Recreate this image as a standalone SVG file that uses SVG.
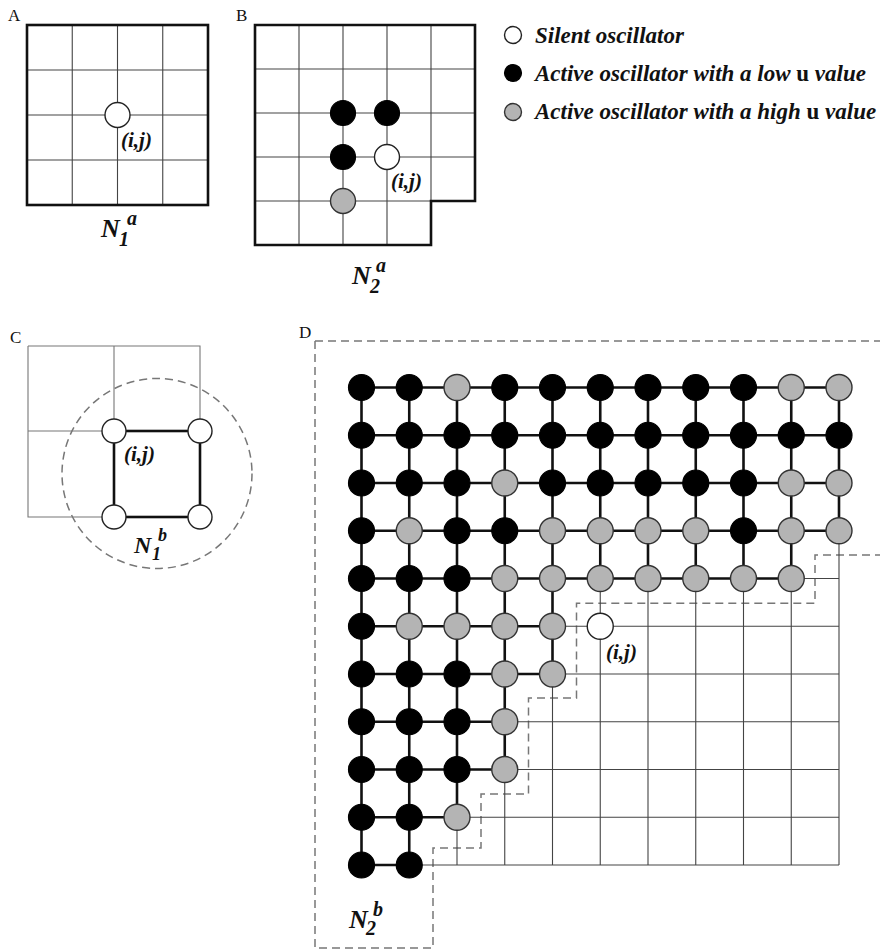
<svg xmlns="http://www.w3.org/2000/svg" width="880" height="950" viewBox="0 0 880 950">
  <style>
    .bg { fill: #ffffff; }
    .frame { fill: none; stroke: #111; stroke-width: 2.6; }
    .grid { fill: none; stroke: #444; stroke-width: 1.1; }
    .grid-lt { fill: none; stroke: #777; stroke-width: 1.1; }
    .thick { fill: none; stroke: #111; stroke-width: 2.6; }
    .dash { fill: none; stroke: #777; stroke-width: 1.5; stroke-dasharray: 8 5; }
    .silent { fill: #ffffff; stroke: #222; stroke-width: 1.4; }
    .low { fill: #000000; stroke: #000; stroke-width: 1.2; }
    .high { fill: #b4b4b4; stroke: #333; stroke-width: 1.4; }
    .panel { font-family: "Liberation Serif", "Times New Roman", serif; font-size: 17px; fill: #111; }
    .lbl { font-family: "Liberation Serif", "Times New Roman", serif; font-style: italic; font-weight: bold; fill: #111; }
    .ij { font-size: 21px; }
    .leg { font-size: 23px; }
    .u { font-style: normal; }
  </style>
  <rect class="bg" x="0" y="0" width="880" height="950"/>

  <!-- Panel letters -->
  <text class="panel" x="8" y="21">A</text>
  <text class="panel" x="236" y="21">B</text>
  <text class="panel" x="10" y="343">C</text>
  <text class="panel" x="299" y="338">D</text>

  <!-- Legend -->
  <g id="legend">
    <g id="legend-silent">
      <circle class="silent" cx="513" cy="35" r="8.5"/>
      <text class="lbl leg" x="535" y="43">Silent oscillator</text>
    </g>
    <g id="legend-low">
      <circle class="low" cx="513" cy="73" r="8.5"/>
      <text class="lbl leg" x="535" y="81">Active oscillator with a low <tspan class="u">u</tspan> value</text>
    </g>
    <g id="legend-high">
      <circle class="high" cx="513" cy="112" r="8.5"/>
      <text class="lbl leg" x="535" y="119">Active oscillator with a high <tspan class="u">u</tspan> value</text>
    </g>
  </g>

  <!-- Panel A: 4x4 neighbourhood -->
  <g id="panel-a">
    <g id="a-connectors">
      <path class="grid" d="M72.25,25V205 M117.5,25V205 M162.75,25V205 M27,70H208 M27,115H208 M27,160H208"/>
      <rect class="frame" x="27" y="25" width="181" height="180"/>
    </g>
    <g id="a-node-ij">
      <circle class="silent" cx="117.5" cy="115" r="12.5"/>
      <text class="lbl ij" x="121" y="147">(i,j)</text>
    </g>
    <text class="lbl" x="101" y="237" font-size="26">N<tspan x="127" y="225" font-size="20">a</tspan><tspan x="119" y="246" font-size="20">1</tspan></text>
  </g>

  <!-- Panel B: 5x5 neighbourhood minus one corner -->
  <g id="panel-b">
    <g id="b-connectors">
      <path class="grid" d="M299,25V245 M343,25V245 M387,25V245 M431,25V201 M255,69H475 M255,113H475 M255,157H475 M255,201H431"/>
      <path class="frame" d="M255,25H475V201H431V245H255Z"/>
    </g>
    <g id="b-node-1"><circle class="low" cx="343" cy="113" r="12.5"/></g>
    <g id="b-node-2"><circle class="low" cx="387" cy="113" r="12.5"/></g>
    <g id="b-node-3"><circle class="low" cx="343" cy="157" r="12.5"/></g>
    <g id="b-node-ij">
      <circle class="silent" cx="387" cy="157" r="12.5"/>
      <text class="lbl ij" x="391" y="188">(i,j)</text>
    </g>
    <g id="b-node-4"><circle class="high" cx="343" cy="201" r="12.5"/></g>
    <text class="lbl" x="352" y="284" font-size="26">N<tspan x="376" y="272" font-size="20">a</tspan><tspan x="370" y="293" font-size="20">2</tspan></text>
  </g>

  <!-- Panel C: corner neighbourhood -->
  <g id="panel-c">
    <g id="c-connectors">
      <path class="grid-lt" d="M28,346H200V431 M28,346V517H114 M114,346V431 M28,431H114"/>
      <rect class="thick" x="114" y="431" width="86" height="86"/>
      <circle class="dash" cx="157" cy="473.5" r="95"/>
    </g>
    <g id="c-node-ij">
      <circle class="silent" cx="114" cy="431" r="12"/>
      <text class="lbl ij" x="124" y="461">(i,j)</text>
    </g>
    <g id="c-node-2"><circle class="silent" cx="200" cy="431" r="12"/></g>
    <g id="c-node-3"><circle class="silent" cx="114" cy="517" r="12"/></g>
    <g id="c-node-4"><circle class="silent" cx="200" cy="517" r="12"/></g>
    <text class="lbl" x="134" y="553" font-size="24">N<tspan x="158" y="541" font-size="18">b</tspan><tspan x="152" y="560" font-size="18">1</tspan></text>
  </g>

  <!-- Panel D: 11x11 lattice, columns x = 361.5 + 47.75*i, rows y = 387.5 + 47.75*j -->
  <g id="panel-d">
    <g id="d-connectors">
      <!-- boundary of the second neighbourhood -->
      <path class="dash" d="M315,341H880 M315,341V948H433V848H481V794H528.5V698H576.5V603.3H815V555H880"/>
      <!-- links touching the silent region -->
      <path class="grid" d="M791.25,578.5H839 M552.5,626.25H839 M552.5,674H839 M504.75,721.75H839 M504.75,769.5H839 M457,817.25H839 M409.25,865H839
        M457,817.25V865 M504.75,769.5V865 M552.5,674V865 M600.25,578.5V865 M648,578.5V865 M695.75,578.5V865 M743.5,578.5V865 M791.25,578.5V865 M839,530.75V865"/>
      <!-- links between active oscillators -->
      <path class="thick" d="M361.5,387.5H839 M361.5,435.25H839 M361.5,483H839 M361.5,530.75H839 M361.5,578.5H791.25 M361.5,626.25H552.5 M361.5,674H552.5 M361.5,721.75H504.75 M361.5,769.5H504.75 M361.5,817.25H457 M361.5,865H409.25
        M361.5,387.5V865 M409.25,387.5V865 M457,387.5V817.25 M504.75,387.5V769.5 M552.5,387.5V674 M600.25,387.5V578.5 M648,387.5V578.5 M695.75,387.5V578.5 M743.5,387.5V578.5 M791.25,387.5V578.5 M839,387.5V530.75"/>
    </g>
    <g id="d-nodes">
      <!-- row 0 -->
      <g id="d-r0c0"><circle class="low" cx="361.5" cy="387.5" r="13"/></g>
      <g id="d-r0c1"><circle class="low" cx="409.25" cy="387.5" r="13"/></g>
      <g id="d-r0c2"><circle class="high" cx="457" cy="387.5" r="13"/></g>
      <g id="d-r0c3"><circle class="low" cx="504.75" cy="387.5" r="13"/></g>
      <g id="d-r0c4"><circle class="low" cx="552.5" cy="387.5" r="13"/></g>
      <g id="d-r0c5"><circle class="low" cx="600.25" cy="387.5" r="13"/></g>
      <g id="d-r0c6"><circle class="low" cx="648" cy="387.5" r="13"/></g>
      <g id="d-r0c7"><circle class="low" cx="695.75" cy="387.5" r="13"/></g>
      <g id="d-r0c8"><circle class="low" cx="743.5" cy="387.5" r="13"/></g>
      <g id="d-r0c9"><circle class="high" cx="791.25" cy="387.5" r="13"/></g>
      <g id="d-r0c10"><circle class="high" cx="839" cy="387.5" r="13"/></g>
      <!-- row 1 -->
      <g id="d-r1c0"><circle class="low" cx="361.5" cy="435.25" r="13"/></g>
      <g id="d-r1c1"><circle class="low" cx="409.25" cy="435.25" r="13"/></g>
      <g id="d-r1c2"><circle class="low" cx="457" cy="435.25" r="13"/></g>
      <g id="d-r1c3"><circle class="low" cx="504.75" cy="435.25" r="13"/></g>
      <g id="d-r1c4"><circle class="low" cx="552.5" cy="435.25" r="13"/></g>
      <g id="d-r1c5"><circle class="low" cx="600.25" cy="435.25" r="13"/></g>
      <g id="d-r1c6"><circle class="low" cx="648" cy="435.25" r="13"/></g>
      <g id="d-r1c7"><circle class="low" cx="695.75" cy="435.25" r="13"/></g>
      <g id="d-r1c8"><circle class="low" cx="743.5" cy="435.25" r="13"/></g>
      <g id="d-r1c9"><circle class="low" cx="791.25" cy="435.25" r="13"/></g>
      <g id="d-r1c10"><circle class="low" cx="839" cy="435.25" r="13"/></g>
      <!-- row 2 -->
      <g id="d-r2c0"><circle class="low" cx="361.5" cy="483" r="13"/></g>
      <g id="d-r2c1"><circle class="low" cx="409.25" cy="483" r="13"/></g>
      <g id="d-r2c2"><circle class="low" cx="457" cy="483" r="13"/></g>
      <g id="d-r2c3"><circle class="high" cx="504.75" cy="483" r="13"/></g>
      <g id="d-r2c4"><circle class="low" cx="552.5" cy="483" r="13"/></g>
      <g id="d-r2c5"><circle class="low" cx="600.25" cy="483" r="13"/></g>
      <g id="d-r2c6"><circle class="low" cx="648" cy="483" r="13"/></g>
      <g id="d-r2c7"><circle class="low" cx="695.75" cy="483" r="13"/></g>
      <g id="d-r2c8"><circle class="low" cx="743.5" cy="483" r="13"/></g>
      <g id="d-r2c9"><circle class="high" cx="791.25" cy="483" r="13"/></g>
      <g id="d-r2c10"><circle class="high" cx="839" cy="483" r="13"/></g>
      <!-- row 3 -->
      <g id="d-r3c0"><circle class="low" cx="361.5" cy="530.75" r="13"/></g>
      <g id="d-r3c1"><circle class="high" cx="409.25" cy="530.75" r="13"/></g>
      <g id="d-r3c2"><circle class="low" cx="457" cy="530.75" r="13"/></g>
      <g id="d-r3c3"><circle class="low" cx="504.75" cy="530.75" r="13"/></g>
      <g id="d-r3c4"><circle class="high" cx="552.5" cy="530.75" r="13"/></g>
      <g id="d-r3c5"><circle class="high" cx="600.25" cy="530.75" r="13"/></g>
      <g id="d-r3c6"><circle class="high" cx="648" cy="530.75" r="13"/></g>
      <g id="d-r3c7"><circle class="high" cx="695.75" cy="530.75" r="13"/></g>
      <g id="d-r3c8"><circle class="low" cx="743.5" cy="530.75" r="13"/></g>
      <g id="d-r3c9"><circle class="high" cx="791.25" cy="530.75" r="13"/></g>
      <g id="d-r3c10"><circle class="high" cx="839" cy="530.75" r="13"/></g>
      <!-- row 4 -->
      <g id="d-r4c0"><circle class="low" cx="361.5" cy="578.5" r="13"/></g>
      <g id="d-r4c1"><circle class="low" cx="409.25" cy="578.5" r="13"/></g>
      <g id="d-r4c2"><circle class="low" cx="457" cy="578.5" r="13"/></g>
      <g id="d-r4c3"><circle class="high" cx="504.75" cy="578.5" r="13"/></g>
      <g id="d-r4c4"><circle class="high" cx="552.5" cy="578.5" r="13"/></g>
      <g id="d-r4c5"><circle class="high" cx="600.25" cy="578.5" r="13"/></g>
      <g id="d-r4c6"><circle class="high" cx="648" cy="578.5" r="13"/></g>
      <g id="d-r4c7"><circle class="high" cx="695.75" cy="578.5" r="13"/></g>
      <g id="d-r4c8"><circle class="high" cx="743.5" cy="578.5" r="13"/></g>
      <g id="d-r4c9"><circle class="high" cx="791.25" cy="578.5" r="13"/></g>
      <!-- row 5 -->
      <g id="d-r5c0"><circle class="low" cx="361.5" cy="626.25" r="13"/></g>
      <g id="d-r5c1"><circle class="high" cx="409.25" cy="626.25" r="13"/></g>
      <g id="d-r5c2"><circle class="high" cx="457" cy="626.25" r="13"/></g>
      <g id="d-r5c3"><circle class="high" cx="504.75" cy="626.25" r="13"/></g>
      <g id="d-r5c4"><circle class="high" cx="552.5" cy="626.25" r="13"/></g>
      <g id="d-node-ij">
        <circle class="silent" cx="600.25" cy="626.25" r="13"/>
        <text class="lbl ij" x="606" y="659">(i,j)</text>
      </g>
      <!-- row 6 -->
      <g id="d-r6c0"><circle class="low" cx="361.5" cy="674" r="13"/></g>
      <g id="d-r6c1"><circle class="low" cx="409.25" cy="674" r="13"/></g>
      <g id="d-r6c2"><circle class="low" cx="457" cy="674" r="13"/></g>
      <g id="d-r6c3"><circle class="high" cx="504.75" cy="674" r="13"/></g>
      <g id="d-r6c4"><circle class="high" cx="552.5" cy="674" r="13"/></g>
      <!-- row 7 -->
      <g id="d-r7c0"><circle class="low" cx="361.5" cy="721.75" r="13"/></g>
      <g id="d-r7c1"><circle class="low" cx="409.25" cy="721.75" r="13"/></g>
      <g id="d-r7c2"><circle class="low" cx="457" cy="721.75" r="13"/></g>
      <g id="d-r7c3"><circle class="high" cx="504.75" cy="721.75" r="13"/></g>
      <!-- row 8 -->
      <g id="d-r8c0"><circle class="low" cx="361.5" cy="769.5" r="13"/></g>
      <g id="d-r8c1"><circle class="low" cx="409.25" cy="769.5" r="13"/></g>
      <g id="d-r8c2"><circle class="low" cx="457" cy="769.5" r="13"/></g>
      <g id="d-r8c3"><circle class="high" cx="504.75" cy="769.5" r="13"/></g>
      <!-- row 9 -->
      <g id="d-r9c0"><circle class="low" cx="361.5" cy="817.25" r="13"/></g>
      <g id="d-r9c1"><circle class="low" cx="409.25" cy="817.25" r="13"/></g>
      <g id="d-r9c2"><circle class="high" cx="457" cy="817.25" r="13"/></g>
      <!-- row 10 -->
      <g id="d-r10c0"><circle class="low" cx="361.5" cy="865" r="13"/></g>
      <g id="d-r10c1"><circle class="low" cx="409.25" cy="865" r="13"/></g>
    </g>
    <text class="lbl" x="349" y="928" font-size="26">N<tspan x="373" y="916" font-size="20">b</tspan><tspan x="366" y="935" font-size="20">2</tspan></text>
  </g>
</svg>
